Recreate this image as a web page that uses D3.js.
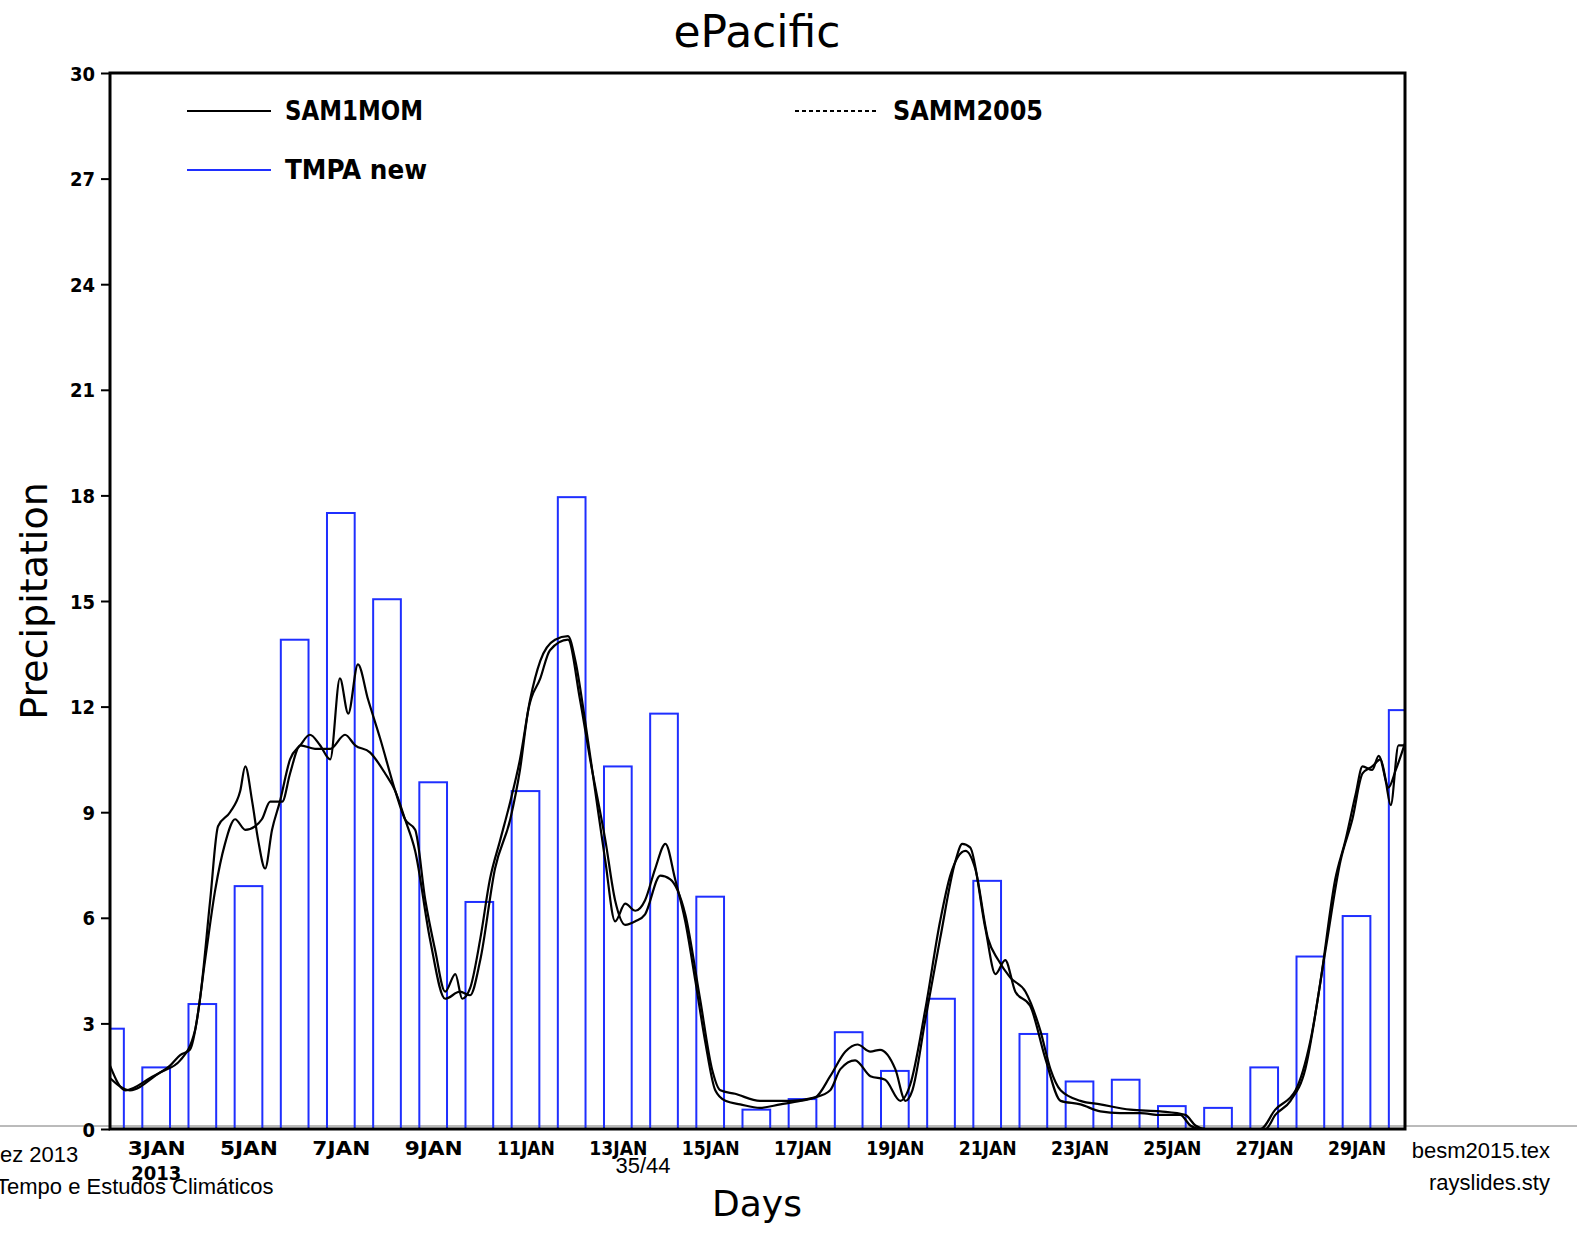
<!DOCTYPE html>
<html><head><meta charset="utf-8">
<script src="https://cdn.jsdelivr.net/npm/d3@7"></script>
<style>html,body{margin:0;background:#fff;overflow:hidden}svg{display:block}</style>
</head><body><div id="chart"></div>
<script>
'use strict';
// TMPA daily bars, days 2..30 Jan 2013
var barDays = d3.range(2, 31);
var tmpaValues = [2.85, 1.75, 3.55, 6.9, 13.9, 17.5, 15.05, 9.85, 6.45, 9.6, 17.95, 10.3, 11.8, 6.6, 0.55,
    0.85, 2.75, 1.65, 3.7, 7.05, 2.7, 1.35, 1.4, 0.65, 0.6, 1.75, 4.9, 6.05, 11.9];

var samDays = [2.00,2.33,2.87,3.30,3.52,3.73,3.95,4.17,4.34,4.60,4.82,4.93,5.08,5.21,5.36,5.51,5.68,5.90,6.12,6.33,6.55,6.77,6.98,7.16,7.37,7.59,7.85,8.18,8.39,8.61,8.83,9.04,9.26,9.48,9.63,9.80,10.02,10.23,10.45,10.67,10.88,11.10,11.32,11.64,11.92,12.08,12.29,12.51,12.73,12.94,13.16,13.38,13.59,13.81,14.03,14.24,14.46,14.68,14.89,15.11,15.33,15.65,16.08,16.52,16.95,17.28,17.60,17.93,18.19,18.47,18.68,19.01,19.23,19.38,19.66,19.98,20.31,20.46,20.63,20.96,21.18,21.39,21.61,21.93,22.26,22.59,23.02,23.45,23.88,24.32,24.75,25.18,25.40,25.62,27.03,27.24,27.57,27.89,28.22,28.54,28.76,28.98,29.13,29.34,29.48,29.63,29.74,29.91,30.06];
var sam1momValues = [1.8,1.1,1.45,1.8,2.1,2.25,3.7,6.5,8.6,9.0,9.6,10.3,9.3,8.2,7.4,8.5,9.3,10.5,10.9,11.2,10.9,10.5,12.8,11.8,13.2,12.2,11.1,9.6,8.8,8.5,6.5,5.1,3.9,4.4,3.7,4.0,5.4,7.1,8.2,9.3,10.5,12.2,13.3,13.9,14.0,13.3,11.6,9.6,7.6,5.9,6.4,6.2,6.5,7.4,8.1,7.1,5.9,4.2,2.5,1.1,0.8,0.7,0.6,0.7,0.8,0.9,1.5,2.2,2.4,2.2,2.25,1.7,0.8,1.1,3.1,5.4,7.6,8.1,8.0,5.7,4.4,4.8,3.9,3.5,2.0,0.8,0.7,0.5,0.45,0.45,0.4,0.4,0.1,0,0,0.4,0.8,1.7,4.2,7.1,8.2,9.5,10.3,10.2,10.6,9.9,9.2,10.9,10.9];

var mDays = [2.00,2.43,3.08,3.52,3.84,4.06,4.28,4.49,4.71,4.93,5.14,5.29,5.47,5.73,5.90,6.12,6.44,6.77,7.09,7.31,7.63,7.96,8.18,8.39,8.61,8.93,9.26,9.58,9.80,10.02,10.34,10.67,10.88,11.06,11.32,11.53,11.92,12.18,12.40,12.73,12.94,13.16,13.38,13.59,13.92,14.13,14.46,14.78,15.04,15.22,15.54,16.08,16.73,17.28,17.60,17.82,18.14,18.47,18.79,19.12,19.33,19.66,19.98,20.20,20.53,20.74,21.02,21.24,21.50,21.83,22.15,22.37,22.59,23.02,23.45,24.10,24.75,25.29,25.51,25.73,26.92,27.24,27.68,28.00,28.33,28.65,28.91,29.13,29.34,29.52,29.69,29.85,30.06];
var samm2005Values = [1.45,1.1,1.6,1.95,2.8,4.8,6.8,8.1,8.8,8.5,8.6,8.8,9.3,9.3,10.1,10.9,10.8,10.8,11.2,10.9,10.7,10.1,9.6,8.8,7.9,5.4,3.7,3.9,3.8,4.8,7.4,8.8,10.2,11.9,12.8,13.6,13.9,12.2,10.5,8.2,6.5,5.8,5.9,6.1,7.2,7.1,6.1,3.7,1.7,1.1,1.0,0.8,0.8,0.9,1.1,1.7,1.95,1.5,1.4,0.8,1.25,3.4,5.9,7.2,7.9,7.4,5.4,4.8,4.3,3.9,2.8,1.7,1.1,0.8,0.7,0.55,0.5,0.4,0.1,0,0,0.55,1.1,2.5,5.1,7.6,8.8,10.1,10.3,10.5,9.7,10.2,11.0];

var yTicks = d3.range(0, 31, 3);
var xTickDays = d3.range(3, 30, 2);

var W = 1577, H = 1233;
var PLOT = {LEFT: 110, RIGHT: 1405, TOP: 73, BOTTOM: 1129};
var FONT = "'DejaVu Sans', sans-serif";
var BOLD = "'DejaVu Sans Condensed', 'DejaVu Sans', sans-serif";

var svg = d3.select('#chart').append('svg').attr('width', W).attr('height', H);

var x = d3.scaleLinear().domain([2, 30.05]).range([PLOT.LEFT, PLOT.RIGHT]);
var y = d3.scaleLinear().domain([0, 30]).range([PLOT.BOTTOM, PLOT.TOP]);
var dayW = x(3) - x(2);

// slide footer line
svg.append('line').attr('x1', 0).attr('x2', W).attr('y1', 1126).attr('y2', 1126)
    .attr('stroke', '#777').attr('stroke-width', 1);

svg.append('clipPath').attr('id', 'clip').append('rect')
    .attr('x', PLOT.LEFT).attr('y', PLOT.TOP)
    .attr('width', PLOT.RIGHT - PLOT.LEFT).attr('height', PLOT.BOTTOM - PLOT.TOP);
var g = svg.append('g').attr('clip-path', 'url(#clip)');

g.selectAll('rect.bar').data(tmpaValues).enter().append('rect')
    .attr('class', 'bar')
    .attr('x', function (d, i) { return x(barDays[i]) - dayW * 0.3; })
    .attr('width', dayW * 0.6)
    .attr('y', function (d) { return y(d); })
    .attr('height', function (d) { return y(0) - y(d); })
    .attr('fill', 'none').attr('stroke', '#1f2fff').attr('stroke-width', 2);

function drawLine(days, vals) {
    var line = d3.line().curve(d3.curveMonotoneX)
        .x(function (d, i) { return x(days[i]); })
        .y(function (d) { return y(d); });
    g.append('path').attr('d', line(vals))
        .attr('fill', 'none').attr('stroke', '#000').attr('stroke-width', 2.2);
}
drawLine(samDays, sam1momValues);
drawLine(mDays, samm2005Values);

// frame
svg.append('rect').attr('x', PLOT.LEFT).attr('y', PLOT.TOP)
    .attr('width', PLOT.RIGHT - PLOT.LEFT).attr('height', PLOT.BOTTOM - PLOT.TOP)
    .attr('fill', 'none').attr('stroke', '#000').attr('stroke-width', 3);

var yAxis = svg.append('g').attr('transform', 'translate(' + PLOT.LEFT + ',0)')
    .call(d3.axisLeft(y).tickValues(yTicks).tickSize(9).tickPadding(6));
var xAxis = svg.append('g').attr('transform', 'translate(0,' + PLOT.BOTTOM + ')')
    .call(d3.axisBottom(x).tickValues(xTickDays).tickSize(0).tickPadding(12)
        .tickFormat(function (d) { return d + 'JAN'; }));
[yAxis, xAxis].forEach(function (a) {
    a.select('.domain').remove();
    a.selectAll('line').attr('stroke-width', 2);
    a.selectAll('text').attr('font-family', BOLD).attr('font-size', 20)
        .attr('font-weight', 'bold').attr('fill', '#000');
});
xAxis.selectAll('text').attr('textLength', 58).attr('lengthAdjust', 'spacingAndGlyphs');
yAxis.selectAll('text').attr('dy', '0.35em');

svg.append('text').attr('x', x(3)).attr('y', 1180).attr('text-anchor', 'middle')
    .attr('font-family', BOLD).attr('font-size', 20).attr('font-weight', 'bold').text('2013');

svg.append('text').attr('x', 757).attr('y', 47).attr('text-anchor', 'middle')
    .attr('font-family', FONT).attr('font-size', 44).text('ePacific');
svg.append('text').attr('transform', 'translate(47,' + 601 + ') rotate(-90)')
    .attr('text-anchor', 'middle').attr('font-family', FONT).attr('font-size', 38).text('Precipitation');
svg.append('text').attr('x', 757).attr('y', 1216).attr('text-anchor', 'middle')
    .attr('font-family', FONT).attr('font-size', 36).text('Days');

// legend
var legend = [
    {name: 'SAM1MOM', x: 187, y: 111, color: '#000', dash: null, len: 138},
    {name: 'SAMM2005', x: 795, y: 111, color: '#000', dash: '4,3', len: 150},
    {name: 'TMPA new', x: 187, y: 170, color: '#1f2fff', dash: null, len: 142}
];
legend.forEach(function (l) {
    svg.append('line').attr('x1', l.x).attr('x2', l.x + 84).attr('y1', l.y).attr('y2', l.y)
        .attr('stroke', l.color).attr('stroke-width', 2).attr('stroke-dasharray', l.dash);
    svg.append('text').attr('x', l.x + 98).attr('y', l.y + 9).attr('font-family', BOLD)
        .attr('font-size', 26).attr('font-weight', 'bold')
        .attr('textLength', l.len).attr('lengthAdjust', 'spacingAndGlyphs').text(l.name);
});

// slide footer
var foot = svg.append('g').attr('font-family', "'Liberation Sans', sans-serif").attr('font-size', 22).attr('fill', '#000');
foot.append('text').attr('x', 0).attr('y', 1162).text('ez 2013');
foot.append('text').attr('x', -4).attr('y', 1194).text('Tempo e Estudos Climáticos');
foot.append('text').attr('x', 643).attr('y', 1173).attr('text-anchor', 'middle').text('35/44');
foot.append('text').attr('x', 1550).attr('y', 1158).attr('text-anchor', 'end').text('besm2015.tex');
foot.append('text').attr('x', 1550).attr('y', 1190).attr('text-anchor', 'end').text('rayslides.sty');
</script></body></html>
